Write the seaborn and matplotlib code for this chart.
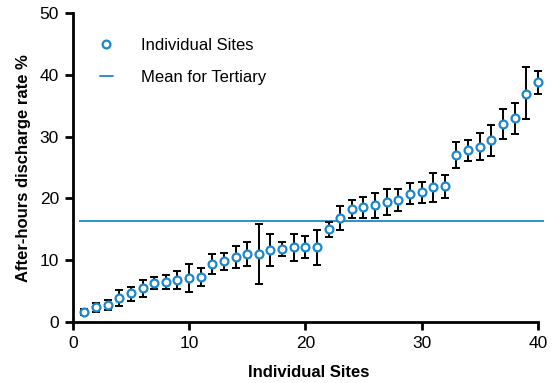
import numpy as np
import pandas as pd
import matplotlib
matplotlib.use("Agg")
import matplotlib.pyplot as plt
import seaborn as sns
from matplotlib.lines import Line2D

sites = list(range(1, 41))
rates = [1.56, 2.48, 2.8, 3.83, 4.64, 5.45, 6.26, 6.53, 6.74, 7.17,
         7.34, 9.39, 9.82, 10.57, 10.95, 11.0, 11.7, 11.87, 12.08, 12.08,
         12.08, 15.0, 16.8, 18.34, 18.55, 18.98, 19.36, 19.8, 20.8, 21.0,
         21.8, 21.95, 27.1, 27.8, 28.4, 29.4, 32.0, 33.0, 36.9, 38.8]
upper = [2.05, 3.13, 3.56, 5.18, 5.72, 6.74, 7.34, 7.66, 8.2, 9.33,
         8.79, 11.06, 11.2, 12.35, 12.94, 15.9, 14.2, 12.94, 14.24, 13.9,
         14.9, 16.2, 18.8, 19.8, 20.3, 20.9, 21.6, 21.6, 22.5, 22.7,
         24.2, 23.8, 29.2, 29.5, 30.6, 31.9, 34.5, 35.4, 41.2, 40.7]
lower = [1.08, 1.67, 1.94, 2.59, 3.45, 4.1, 5.29, 5.39, 5.34, 4.91,
         5.88, 7.77, 8.41, 8.79, 9.0, 6.2, 9.1, 10.68, 9.92, 10.4,
         9.2, 13.7, 14.9, 16.9, 16.8, 16.9, 17.3, 18.0, 19.15, 19.25,
         19.5, 20.1, 25.0, 26.0, 26.2, 26.9, 29.6, 30.5, 32.8, 36.9]
mean_tertiary = 16.4

df = pd.DataFrame({"site": sites, "rate": rates, "lo": lower, "hi": upper})

sns.set_style("ticks")
plt.rcParams["font.family"] = ["Liberation Sans", "DejaVu Sans"]
plt.rcParams["text.color"] = "black"
plt.rcParams["axes.labelcolor"] = "black"

blue = "#1a87cf"
fig = plt.figure(figsize=(5.52, 3.83), dpi=100)
ax = fig.add_axes([0.132, 0.159, 0.855, 0.807])

ax.errorbar(df["site"], df["rate"],
            yerr=[df["rate"] - df["lo"], df["hi"] - df["rate"]],
            fmt="none", ecolor="black", elinewidth=1.4, capsize=2.6, capthick=1.4, zorder=2)
ax.hlines(mean_tertiary, 0.5, 40.5, color=blue, linewidth=1.3, zorder=1)
sns.scatterplot(data=df, x="site", y="rate", ax=ax, marker="o", s=32,
                facecolor="white", edgecolor=blue, linewidth=1.6, zorder=3)

handles = [Line2D([], [], marker="o", linestyle="none", markerfacecolor="white",
                  markeredgecolor=blue, markeredgewidth=1.6, markersize=5.6),
           Line2D([], [], color=blue, linewidth=1.3)]
ax.legend(handles, ["Individual Sites", "Mean for Tertiary"], loc="upper left",
          bbox_to_anchor=(0.057, 0.92), frameon=False, fontsize=12,
          handlelength=0.8, handletextpad=1.7, labelspacing=1.05,
          borderaxespad=0, borderpad=0)

ax.set_xlim(0, 40.6)
ax.set_ylim(0, 50)
ax.set_xticks([0, 10, 20, 30, 40])
ax.set_yticks([0, 10, 20, 30, 40, 50])
ax.spines["bottom"].set_bounds(0, 40)
ax.spines["left"].set_bounds(0, 50)
sns.despine(ax=ax)
for s in ["left", "bottom"]:
    ax.spines[s].set_linewidth(2)
    ax.spines[s].set_color("black")
ax.tick_params(axis="both", width=2, length=6, labelsize=12.5, colors="black",
               labelcolor="black", pad=4)
ax.set_xlabel("Individual Sites", fontsize=12, fontweight="bold", labelpad=10)
ax.set_ylabel("After-hours discharge rate %", fontsize=12, fontweight="bold", labelpad=6)

fig.savefig("out.png", dpi=100)
